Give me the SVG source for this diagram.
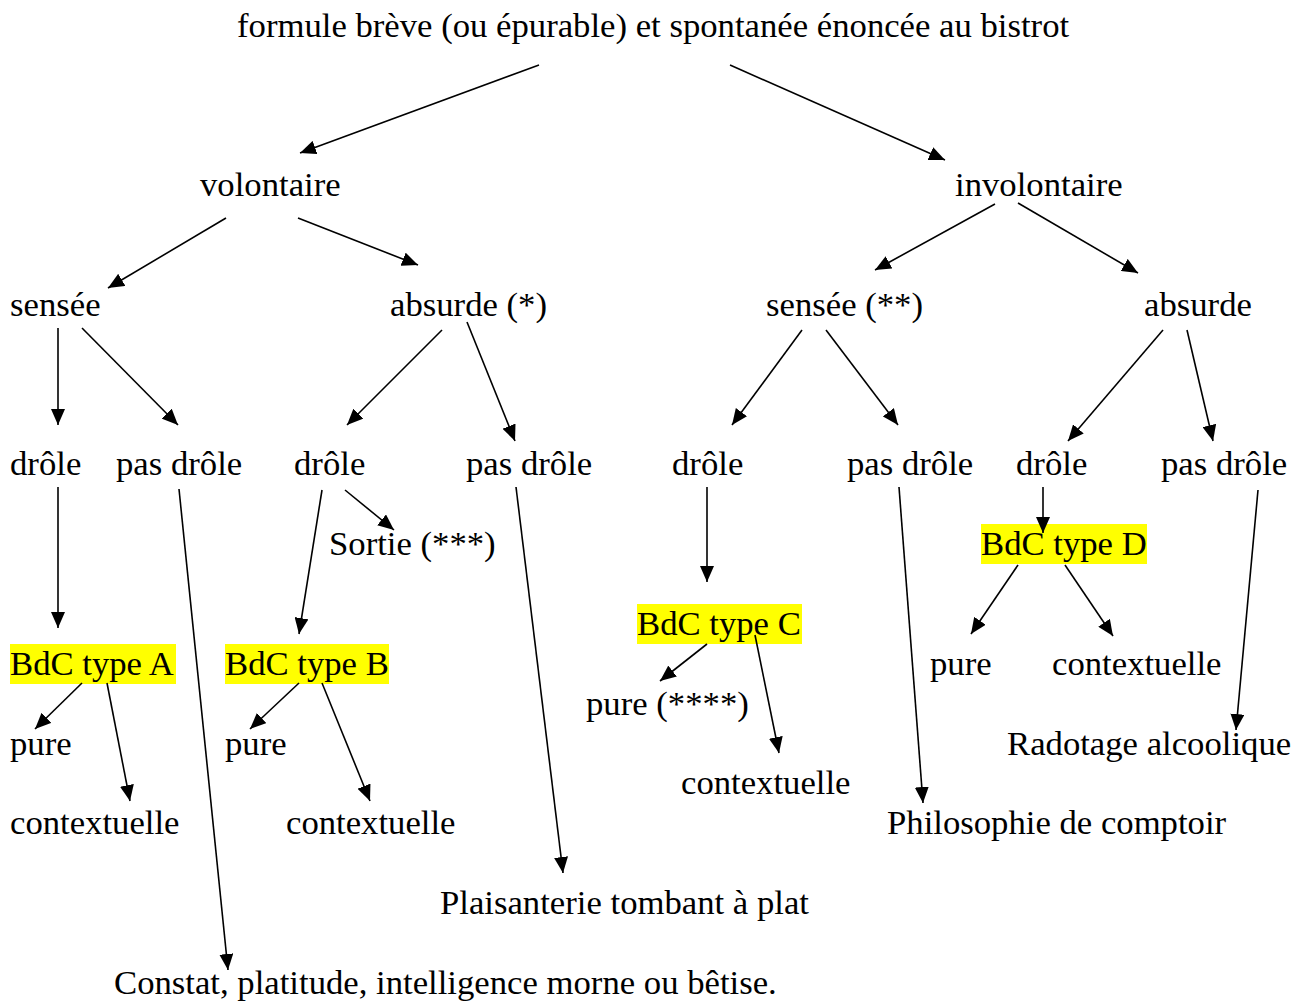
<svg xmlns="http://www.w3.org/2000/svg" width="1304" height="1001" viewBox="0 0 1304 1001">
<style>
text{font-family:"Liberation Serif","Times New Roman",serif;font-size:34.7px;fill:#000}
.hl{fill:#ffff00}
.c line{stroke:#000;stroke-width:1.6;marker-end:url(#ah)}
</style>
<defs>
<marker id="ah" markerUnits="userSpaceOnUse" markerWidth="17" markerHeight="14" refX="16" refY="7" orient="auto">
<path d="M0,0 L16,7 L0,14 z" fill="#000"/>
</marker>
</defs>
<rect width="1304" height="1001" fill="#fff"/>
<g id="n-root"><text x="237" y="37">formule brève (ou épurable) et spontanée énoncée au bistrot</text></g>
<g id="n-vol"><text x="200" y="196">volontaire</text></g>
<g id="n-invol"><text x="955" y="196">involontaire</text></g>
<g id="n-vs"><text x="10" y="316">sensée</text></g>
<g id="n-va"><text x="390" y="316">absurde (*)</text></g>
<g id="n-is"><text x="766" y="316">sensée (**)</text></g>
<g id="n-ia"><text x="1144" y="316">absurde</text></g>
<g id="n-d1"><text x="10" y="475">drôle</text></g>
<g id="n-p1"><text x="116" y="475">pas drôle</text></g>
<g id="n-d2"><text x="294" y="475">drôle</text></g>
<g id="n-p2"><text x="466" y="475">pas drôle</text></g>
<g id="n-d3"><text x="672" y="475">drôle</text></g>
<g id="n-p3"><text x="847" y="475">pas drôle</text></g>
<g id="n-d4"><text x="1016" y="475">drôle</text></g>
<g id="n-p4"><text x="1161" y="475">pas drôle</text></g>
<g id="n-sortie"><text x="329" y="555">Sortie (***)</text></g>
<g id="n-bdcA"><rect class="hl" x="10" y="644" width="166" height="40"/><text x="10" y="675">BdC type A</text></g>
<g id="n-bdcB"><rect class="hl" x="225" y="644" width="164" height="40"/><text x="225" y="675">BdC type B</text></g>
<g id="n-bdcC"><rect class="hl" x="637" y="604" width="165" height="40"/><text x="637" y="635">BdC type C</text></g>
<g id="n-bdcD"><rect class="hl" x="981" y="524" width="166" height="40"/><text x="981" y="555">BdC type D</text></g>
<g id="n-pureD"><text x="930" y="675">pure</text></g>
<g id="n-ctxD"><text x="1052" y="675">contextuelle</text></g>
<g id="n-pureC"><text x="586" y="715">pure (****)</text></g>
<g id="n-pureA"><text x="10" y="755">pure</text></g>
<g id="n-pureB"><text x="225" y="755">pure</text></g>
<g id="n-rad"><text x="1007" y="755">Radotage alcoolique</text></g>
<g id="n-ctxC"><text x="681" y="794">contextuelle</text></g>
<g id="n-ctxA"><text x="10" y="834">contextuelle</text></g>
<g id="n-ctxB"><text x="286" y="834">contextuelle</text></g>
<g id="n-philo"><text x="887" y="834">Philosophie de comptoir</text></g>
<g id="n-plais"><text x="440" y="914">Plaisanterie tombant à plat</text></g>
<g id="n-constat"><text x="114" y="994">Constat, platitude, intelligence morne ou bêtise.</text></g>
<g id="connectors" class="c">
<line x1="539" y1="65" x2="300" y2="153"/>
<line x1="730" y1="65" x2="945" y2="160"/>
<line x1="226" y1="218" x2="108" y2="288"/>
<line x1="298" y1="218" x2="418" y2="265"/>
<line x1="995" y1="204" x2="875" y2="270"/>
<line x1="1018" y1="203" x2="1138" y2="273"/>
<line x1="58" y1="328" x2="58" y2="425"/>
<line x1="82" y1="328" x2="178" y2="425"/>
<line x1="442" y1="330" x2="347" y2="425"/>
<line x1="467" y1="322" x2="515" y2="441"/>
<line x1="802" y1="330" x2="732" y2="425"/>
<line x1="826" y1="330" x2="898" y2="425"/>
<line x1="1163" y1="330" x2="1068" y2="441"/>
<line x1="1187" y1="330" x2="1213" y2="441"/>
<line x1="58" y1="487" x2="58" y2="628"/>
<line x1="179" y1="489" x2="228" y2="970"/>
<line x1="322" y1="490" x2="299" y2="634"/>
<line x1="345" y1="490" x2="394" y2="530"/>
<line x1="516" y1="487" x2="563" y2="873"/>
<line x1="707" y1="487" x2="707" y2="582"/>
<line x1="899" y1="487" x2="923" y2="803"/>
<line x1="1043" y1="487" x2="1043" y2="533"/>
<line x1="1258" y1="490" x2="1236" y2="730"/>
<line x1="82" y1="683" x2="35" y2="729"/>
<line x1="107" y1="683" x2="130" y2="801"/>
<line x1="299" y1="683" x2="250" y2="729"/>
<line x1="322" y1="683" x2="370" y2="801"/>
<line x1="707" y1="644" x2="660" y2="681"/>
<line x1="755" y1="635" x2="779" y2="753"/>
<line x1="1018" y1="565" x2="971" y2="634"/>
<line x1="1065" y1="565" x2="1113" y2="636"/>
</g>
</svg>
